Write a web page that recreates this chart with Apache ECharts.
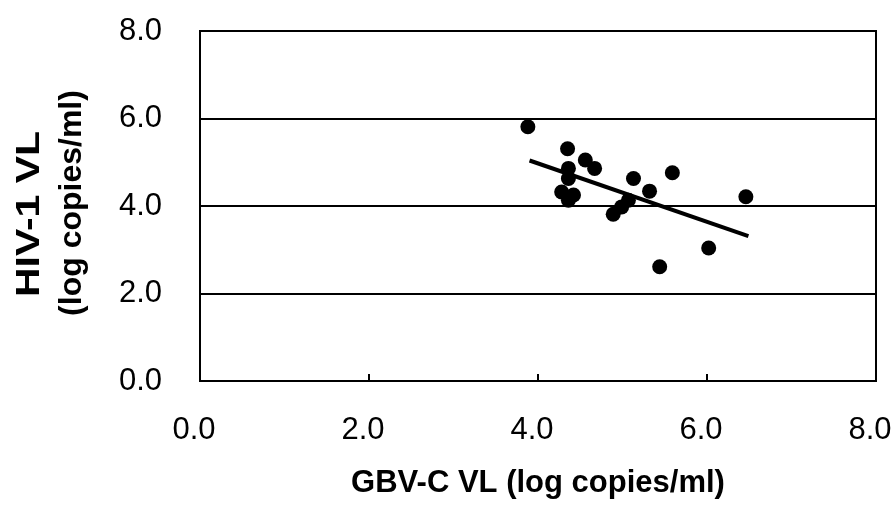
<!DOCTYPE html>
<html>
<head>
<meta charset="utf-8">
<script src="https://cdn.jsdelivr.net/npm/echarts@6/dist/echarts.min.js"></script>
<style>
  html, body { margin: 0; padding: 0; background: #fff; }
  #chart { width: 894px; height: 508px; }
</style>
</head>
<body>
<div id="chart"></div>
<script>
// GBV-C viral load (x) vs HIV-1 viral load (y), both log copies/ml
const gbvcVL = [3.88, 4.35, 4.56, 4.67, 4.36, 4.36, 4.28, 4.42, 4.36, 5.13, 5.32, 5.59, 5.07, 4.99, 4.89, 6.46, 6.02, 5.44];
const hivVL  = [5.81, 5.31, 5.05, 4.86, 4.86, 4.63, 4.32, 4.25, 4.13, 4.63, 4.34, 4.76, 4.13, 3.98, 3.81, 4.21, 3.04, 2.61];

// Fitted regression line end points
const fitX = [3.90, 6.49];
const fitY = [5.04, 3.31];

const xTitle = 'GBV-C VL (log copies/ml)';
const yTitle = ['HIV-1 VL', '(log copies/ml)'];

const points = gbvcVL.map((x, i) => [x, hivVL[i]]);
const fitLine = fitX.map((x, i) => [x, fitY[i]]);

const FONT = 'Liberation Sans, Arial, sans-serif';
const chart = echarts.init(document.getElementById('chart'));
const labelFont = { fontFamily: FONT, fontSize: 31, color: '#000' };

chart.setOption({
  animation: false,
  backgroundColor: '#fff',
  grid: {
    left: 200, right: 18, top: 31, bottom: 127,
    outerBoundsMode: 'none',
    show: true, borderColor: '#000', borderWidth: 2, backgroundColor: 'transparent'
  },
  xAxis: {
    type: 'value', min: 0, max: 8, interval: 2,
    axisLine: { show: true, lineStyle: { color: '#000', width: 2 } },
    axisTick: { show: true, inside: true, length: 7, lineStyle: { color: '#000', width: 2 } },
    splitLine: { show: false },
    axisLabel: Object.assign({
      margin: 34,
      padding: [0, 12, 0, 0],
      hideOverlap: false,
      showMaxLabel: true,
      formatter: v => v.toFixed(1)
    }, labelFont),
    name: xTitle,
    nameLocation: 'middle',
    nameGap: 87,
    nameTextStyle: { fontFamily: FONT, fontSize: 31, fontWeight: 'bold', color: '#000' }
  },
  yAxis: {
    type: 'value', min: 0, max: 8, interval: 2,
    axisLine: { show: true, lineStyle: { color: '#000', width: 2 } },
    axisTick: { show: false },
    splitLine: { show: true, lineStyle: { color: '#000', width: 2 } },
    axisLabel: Object.assign({ margin: 38, formatter: v => v.toFixed(1) }, labelFont)
  },
  graphic: [
    {
      type: 'text',
      x: 30, y: 214,
      rotation: Math.PI / 2,
      scaleX: 1.24,
      style: {
        text: yTitle[0],
        fontFamily: FONT, fontSize: 33, fontWeight: 'bold', fill: '#000',
        align: 'center', verticalAlign: 'middle'
      }
    },
    {
      type: 'text',
      x: 72, y: 203,
      rotation: Math.PI / 2,
      style: {
        text: yTitle[1],
        fontFamily: FONT, fontSize: 32, fontWeight: 'bold', fill: '#000',
        align: 'center', verticalAlign: 'middle'
      }
    }
  ],
  series: [
    {
      type: 'line',
      data: fitLine,
      symbol: 'none',
      lineStyle: { color: '#000', width: 4 },
      z: 2
    },
    {
      type: 'scatter',
      data: points,
      symbol: 'circle',
      symbolSize: 15,
      itemStyle: { color: '#000', opacity: 1 },
      z: 3
    }
  ]
});
</script>
</body>
</html>
